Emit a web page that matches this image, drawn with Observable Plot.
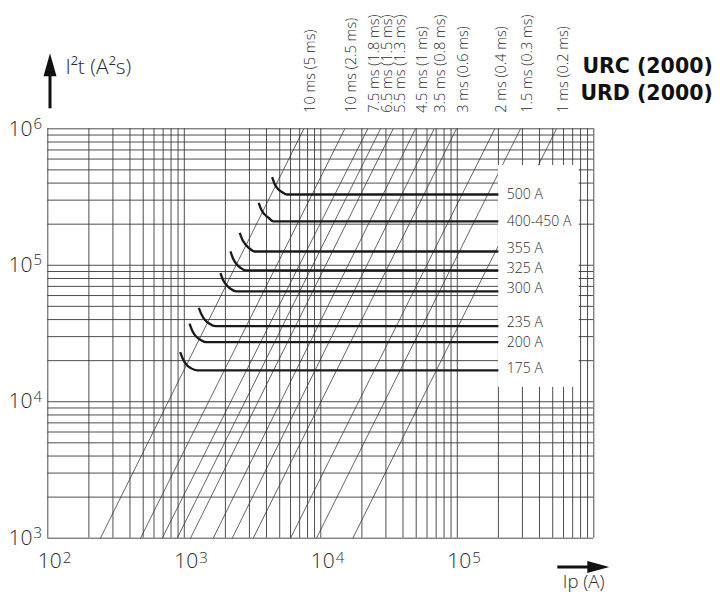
<!DOCTYPE html>
<html>
<head>
<meta charset="utf-8">
<script src="https://cdn.jsdelivr.net/npm/d3@7"></script>
<script src="https://cdn.jsdelivr.net/npm/@observablehq/plot@0.6"></script>
<style>
  html, body { margin: 0; padding: 0; background: #fff; }
  #chart { width: 720px; height: 603px; }
</style>
</head>
<body>
<div id="chart"></div>
<script>
// ---------- data ----------
const ratings = ["500 A", "400-450 A", "355 A", "325 A", "300 A", "235 A", "200 A", "175 A"];
// hook of each curve, from its upper end down to the knee (Ip in A, I²t in A²s)
const hookIp = [
  [4400, 4580, 4840, 5220, 5670],
  [3510, 3660, 3870, 4140, 4480],
  [2550, 2660, 2820, 3020, 3270],
  [2180, 2270, 2400, 2580, 2810],
  [1840, 1915, 2030, 2180, 2400],
  [1277, 1337, 1413, 1530, 1693],
  [1092, 1142, 1208, 1308, 1447],
  [933, 975, 1033, 1116, 1243]
];
const hookI2t = [
  [442000, 396000, 364000, 343000, 330000],
  [287000, 256000, 236000, 223000, 210000],
  [173000, 154500, 141300, 132100, 126200],
  [126200, 112700, 102600, 95900, 91600],
  [87500, 78700, 72000, 67300, 64300],
  [48800, 43600, 39900, 37300, 35800],
  [37300, 33300, 30400, 28500, 27300],
  [23100, 20650, 18760, 17630, 16960]
];
const curveEndIp = 200000;
// I²t level at which each rating label sits
const labelI2t = [328500, 210000, 132000, 94200, 67900, 38300, 27300, 17520];

const timeLabels = ["10 ms (5 ms)", "10 ms (2.5 ms)", "7.5 ms (1.8 ms)", "6.5 ms (1.5 ms)",
  "5.5 ms (1.3 ms)", "4.5 ms (1 ms)", "3.5 ms (0.8 ms)", "3 ms (0.6 ms)",
  "2 ms (0.4 ms)", "1.5 ms (0.3 ms)", "1 ms (0.2 ms)"];
// Ip where each time line meets I²t = 10^6 (top) and I²t = 10^3 (bottom)
const timeIpTop = [7510, 14990, 22100, 27370, 33920, 49400, 67730, 98650, 188300, 290400, 532900];
const timeIpBottom = [243, 478, 689, 887, 1110, 1628, 2244, 3197, 6000, 9300, 17160];

const xDecades = [2, 3, 4, 5];
const yDecades = [3, 4, 5, 6];
const xDomain = [1e2, 1e6];
const yDomain = [1e3, 1e6];
const titleLines = ["URC (2000)", "URD (2000)"];
const yLabel = "I²t (A²s)";
const xLabel = "Ip (A)";

// ---------- derived tables ----------
const mantissas = [1, 2, 3, 4, 5, 6, 7, 8, 9];
const xGrid = [];
for (let e = 2; e < 6; e++) for (const m of mantissas) xGrid.push(m * 10 ** e);
xGrid.push(1e6);
const yGrid = [];
for (let e = 3; e < 6; e++) for (const m of mantissas) yGrid.push(m * 10 ** e);
yGrid.push(1e6);

const curvePts = [];
const curveLevels = [];
ratings.forEach((r, i) => {
  hookIp[i].forEach((ip, j) => curvePts.push({rating: r, Ip: ip, I2t: hookI2t[i][j]}));
  const level = hookI2t[i][hookI2t[i].length - 1];
  curvePts.push({rating: r, Ip: curveEndIp, I2t: level});
  curveLevels.push({rating: r, level, labelAt: labelI2t[i]});
});
const timeLines = timeLabels.map((label, i) => ({label, top: timeIpTop[i], bottom: timeIpBottom[i]}));
const levelsOnly = curveLevels.map(d => d.level);
const panel = [{
  x1: curveEndIp, x2: xDomain[1] / 1.28,
  y1: d3.min(levelsOnly) / 1.33, y2: d3.max(levelsOnly) * 1.63
}];

const FONT = "'Open Sans', Lato, 'DejaVu Sans', sans-serif";
const LIGHT = 300;
const INK = "#2b2b2b";

// axis arrows, drawn relative to the frame
function axisArrows(index, scales, values, dims) {
  const {marginLeft, marginTop, width, height, marginRight, marginBottom} = dims;
  const g = d3.create("svg:g").attr("fill", "#111");
  // vertical arrow (I²t)
  const ax = marginLeft + 2.7, aTop = marginTop - 75, aBase = marginTop - 20;
  g.append("rect").attr("x", ax - 1.5).attr("y", aTop + 18).attr("width", 3).attr("height", aBase - aTop - 18);
  g.append("path").attr("d", `M${ax},${aTop} L${ax + 6.5},${aTop + 23} L${ax - 6.5},${aTop + 23} Z`);
  // horizontal arrow (Ip)
  const fy = height - marginBottom + 29.3, fRight = width - marginRight;
  const hx0 = fRight - 36, hx1 = fRight + 16;
  g.append("rect").attr("x", hx0).attr("y", fy - 1.5).attr("width", hx1 - hx0 - 18).attr("height", 3);
  g.append("path").attr("d", `M${hx1},${fy} L${hx1 - 22},${fy - 6} L${hx1 - 22},${fy + 6} Z`);
  return g.node();
}

const chart = Plot.plot({
  width: 720,
  height: 603,
  marginLeft: 47.3,
  marginRight: 126.7,
  marginTop: 128.3,
  marginBottom: 65.3,
  x: {type: "log", domain: xDomain, axis: null},
  y: {type: "log", domain: yDomain, axis: null},
  style: {background: "white", fontFamily: FONT, color: INK, overflow: "visible"},
  marks: [
    Plot.ruleX(xGrid, {stroke: "#3a3a3a", strokeWidth: 0.9}),
    Plot.ruleY(yGrid, {stroke: "#3a3a3a", strokeWidth: 0.9}),
    Plot.link(timeLines, {
      x1: "bottom", y1: () => yDomain[0], x2: "top", y2: () => yDomain[1],
      stroke: "#333", strokeWidth: 0.75
    }),
    Plot.rect(panel, {x1: "x1", x2: "x2", y1: "y1", y2: "y2", fill: "white"}),
    Plot.line(curvePts, {
      x: "Ip", y: "I2t", z: "rating", curve: "monotone-x",
      stroke: "#1a1a1a", strokeWidth: 2.3, strokeLinecap: "butt"
    }),
    Plot.text(curveLevels, {
      x: () => curveEndIp, y: "labelAt", text: "rating", dx: 8.4,
      textAnchor: "start", fontSize: 14, fontWeight: LIGHT, fill: INK
    }),
    Plot.text(timeLines, {
      x: "top", frameAnchor: "top", text: "label", rotate: -90,
      textAnchor: "start", dy: -16, dx: 1, fontSize: 14.5, fontWeight: LIGHT, fill: INK
    }),
    // y tick labels
    Plot.text(yDecades, {
      y: d => 10 ** d, frameAnchor: "left", text: () => "10",
      textAnchor: "end", dx: -15.3, fontSize: 21, fontWeight: LIGHT, fill: INK
    }),
    Plot.text(yDecades, {
      y: d => 10 ** d, frameAnchor: "left", text: d => String(d),
      textAnchor: "start", dx: -14.3, dy: -5, fontSize: 15, fontWeight: LIGHT, fill: INK
    }),
    // x tick labels
    Plot.text(xDecades, {
      x: d => 10 ** d, frameAnchor: "bottom", text: () => "10",
      textAnchor: "end", dx: 14, dy: 29.6, fontSize: 21, fontWeight: LIGHT, fill: INK
    }),
    Plot.text(xDecades, {
      x: d => 10 ** d, frameAnchor: "bottom", text: d => String(d),
      textAnchor: "start", dx: 15, dy: 24.5, fontSize: 15, fontWeight: LIGHT, fill: INK
    }),
    // axis titles
    Plot.text([yLabel], {
      frameAnchor: "top-left", text: d => d, textAnchor: "start",
      dx: 17.7, dy: -70, fontSize: 21, fontWeight: LIGHT, fill: INK
    }),
    Plot.text([xLabel], {
      frameAnchor: "bottom-right", text: d => d, textAnchor: "start",
      dx: -31, dy: 49.5, fontSize: 18.5, fontWeight: LIGHT, fill: INK
    }),
    // product titles
    Plot.text([titleLines[0]], {
      frameAnchor: "top-right", text: d => d, textAnchor: "end",
      dx: 119, dy: -69.9, fontSize: 20.5, fontWeight: "bold",
      fontFamily: "'DejaVu Sans', sans-serif", fill: "#111"
    }),
    Plot.text([titleLines[1]], {
      frameAnchor: "top-right", text: d => d, textAnchor: "end",
      dx: 119, dy: -43.2, fontSize: 20.5, fontWeight: "bold",
      fontFamily: "'DejaVu Sans', sans-serif", fill: "#111"
    }),
    axisArrows
  ]
});

document.getElementById("chart").appendChild(chart);
</script>
</body>
</html>
